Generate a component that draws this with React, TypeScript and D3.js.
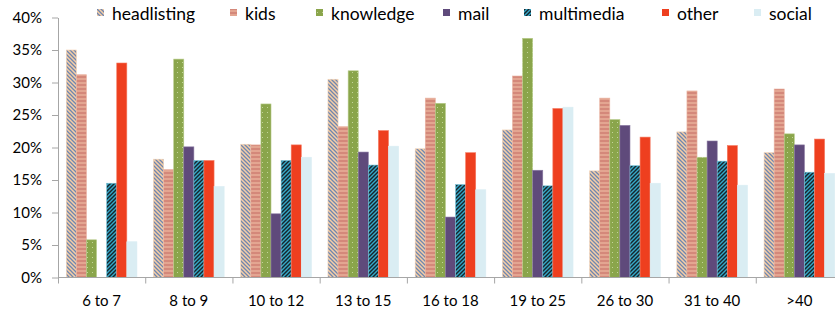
import React, {useEffect, useRef} from 'react'
import * as d3 from 'd3'

const categories = ['6 to 7', '8 to 9', '10 to 12', '13 to 15', '16 to 18', '19 to 25', '26 to 30', '31 to 40', '>40']
const seriesNames = ['headlisting', 'kids', 'knowledge', 'mail', 'multimedia', 'other', 'social']

// percent values per series, one per age group
const headlisting = [35.0, 18.2, 20.5, 30.5, 19.8, 22.7, 16.4, 22.4, 19.2]
const kids = [31.2, 16.6, 20.4, 23.2, 27.6, 31.0, 27.6, 28.7, 29.0]
const knowledge = [5.8, 33.6, 26.7, 31.8, 26.8, 36.8, 24.3, 18.5, 22.1]
const mail = [0, 20.1, 9.8, 19.3, 9.3, 16.5, 23.4, 21.0, 20.4]
const multimedia = [14.5, 18.0, 18.0, 17.3, 14.3, 14.1, 17.2, 17.9, 16.2]
const other = [33.0, 18.0, 20.4, 22.6, 19.2, 26.0, 21.6, 20.3, 21.3]
const social = [5.5, 14.0, 18.5, 20.2, 13.5, 26.2, 14.5, 14.2, 16.0]

const yTicks = [0, 0.05, 0.1, 0.15, 0.2, 0.25, 0.3, 0.35, 0.4]

const seriesValues = [headlisting, kids, knowledge, mail, multimedia, other, social]

const fills = ['url(#pHead)', 'url(#pKids)', 'url(#pKnow)', '#5f4a7b', 'url(#pMulti)', '#ee3f1f', '#daedf3']
const strokes = ['#f3d2b4', '#e9b3a2', '#b8cc8c', '#8a7aa2', '#7ac3d8', '#f57a60', '#daedf3']
// legend icon x positions (layout of the legend row)
const legendX = [97, 230, 316, 443, 524, 662, 754]

const App = () => {
  const ref = useRef<SVGSVGElement>(null)
  const width = 835
  const height = 312
  const margin = {left: 58, top: 17.5, bottom: 277.5, right: 843}

  useEffect(() => {
    const svg = d3.select(ref.current)
    svg.selectAll('*').remove()

    const defs = svg.append('defs')
    const pHead = defs.append('pattern').attr('id', 'pHead').attr('patternUnits', 'userSpaceOnUse')
      .attr('width', 4).attr('height', 4)
    pHead.append('rect').attr('width', 4).attr('height', 4).attr('fill', '#f7cfa6')
    pHead.append('path').attr('d', 'M-1,-1 L5,5 M3,-1 L5,1 M-1,3 L1,5')
      .attr('stroke', '#6f86b0').attr('stroke-width', 1.3)

    const pKids = defs.append('pattern').attr('id', 'pKids').attr('patternUnits', 'userSpaceOnUse')
      .attr('width', 4).attr('height', 4)
    pKids.append('rect').attr('width', 4).attr('height', 4).attr('fill', '#e3a591')
    pKids.append('rect').attr('width', 4).attr('height', 2).attr('fill', '#d4887a')

    const pKnow = defs.append('pattern').attr('id', 'pKnow').attr('patternUnits', 'userSpaceOnUse')
      .attr('width', 5).attr('height', 5)
    pKnow.append('rect').attr('width', 5).attr('height', 5).attr('fill', '#8aa54b')
    pKnow.append('rect').attr('x', 2).attr('y', 2).attr('width', 1).attr('height', 1).attr('fill', '#c3d49a')

    const pMulti = defs.append('pattern').attr('id', 'pMulti').attr('patternUnits', 'userSpaceOnUse')
      .attr('width', 4).attr('height', 4)
    pMulti.append('rect').attr('width', 4).attr('height', 4).attr('fill', '#16252c')
    pMulti.append('path').attr('d', 'M-1,5 L5,-1 M-1,1 L1,-1 M3,5 L5,3')
      .attr('stroke', '#35a9c9').attr('stroke-width', 1.4)

    const x0 = d3.scaleBand().domain(categories).range([margin.left, margin.right])
    const x1 = d3.scaleBand().domain(seriesNames).range([8.3, x0.bandwidth() - 8.3])
    const y = d3.scaleLinear().domain([0, 0.4]).range([margin.bottom, margin.top])

    const font = 'Lato, "Open Sans", sans-serif'

    // bars
    seriesNames.forEach((s, si) => {
      const rows = seriesValues[si]
        .map((v, i) => ({cat: categories[i], v}))
        .filter(d => d.v > 0)
      svg.append('g')
        .selectAll('rect')
        .data(rows)
        .enter()
        .append('rect')
        .attr('x', d => x0(d.cat)! + x1(s)!)
        .attr('y', d => y(d.v / 100))
        .attr('width', x1.bandwidth())
        .attr('height', d => y(0) - y(d.v / 100))
        .attr('fill', fills[si])
        .attr('stroke', strokes[si])
        .attr('stroke-width', 0.6)
    })

    // y axis
    const yAxis = svg.append('g')
      .attr('transform', 'translate(' + margin.left + ',0)')
      .call(d3.axisLeft(y).tickValues(yTicks).tickFormat(d3.format('.0%')).tickSize(6).tickPadding(10).tickSizeOuter(0))
    yAxis.selectAll('path, line').attr('stroke', '#a6a6a6')
    yAxis.selectAll('text').attr('font-family', font).attr('font-size', 15).attr('fill', '#000')

    // x axis
    const xAxis = svg.append('g')
    xAxis.append('line')
      .attr('x1', margin.left).attr('x2', width)
      .attr('y1', y(0)).attr('y2', y(0))
      .attr('stroke', '#a6a6a6')
    xAxis.selectAll('line.tick')
      .data(categories)
      .enter()
      .append('line')
      .attr('class', 'tick')
      .attr('x1', d => x0(d)! + 0.5).attr('x2', d => x0(d)! + 0.5)
      .attr('y1', y(0)).attr('y2', y(0) + 6)
      .attr('stroke', '#a6a6a6')
    xAxis.selectAll('text')
      .data(categories)
      .enter()
      .append('text')
      .attr('x', d => x0(d)! + x0.bandwidth() / 2)
      .attr('y', 306)
      .attr('text-anchor', 'middle')
      .attr('font-family', font)
      .attr('font-size', 15)
      .text(d => d)

    // legend
    const legend = svg.append('g')
    seriesNames.forEach((s, si) => {
      legend.append('rect')
        .attr('x', legendX[si]).attr('y', 9)
        .attr('width', 7).attr('height', 7)
        .attr('fill', fills[si])
      legend.append('text')
        .attr('x', legendX[si] + 15)
        .attr('y', 20)
        .attr('font-family', font)
        .attr('font-size', 17.5)
        .text(s)
    })

    return () => { svg.selectAll('*').remove() }
  }, [])

  return (
    <svg ref={ref} width={width} height={height} style={{position: 'absolute', left: 0, top: 0, background: '#fff'}}>
    </svg>
  )
}

export default App
